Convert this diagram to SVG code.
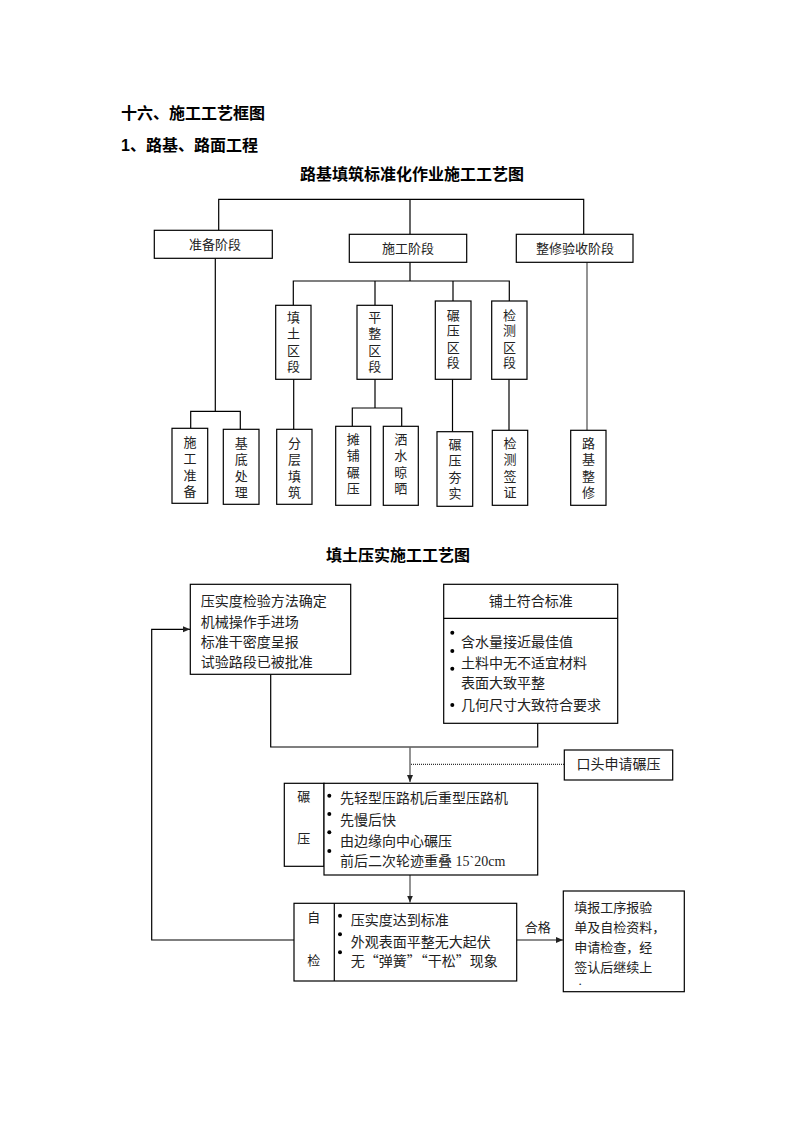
<svg xmlns="http://www.w3.org/2000/svg" width="793" height="1122" viewBox="0 0 793 1122">
<style>
.bg{fill:#fff}
.box{fill:#fff;stroke:#000;stroke-width:1.2}
.ln{fill:none;stroke:#000;stroke-width:1.2}
.gl{fill:none;stroke:#666;stroke-width:1.4}
.dot{fill:none;stroke:#000;stroke-width:1;stroke-dasharray:1 1}
.h{font-family:"Liberation Sans","Noto Sans CJK SC",sans-serif;font-weight:bold;font-size:16px;fill:#000}
.t{font-family:"Liberation Serif","Noto Sans CJK SC",sans-serif;font-size:14px;fill:#222}
.s{font-family:"Liberation Serif","Noto Sans CJK SC",sans-serif;font-size:13px;fill:#222}
.q{font-family:"Noto Sans CJK SC",sans-serif}
.c{text-anchor:middle}
.b{fill:#000}
</style>
<defs>
<marker id="ah" markerUnits="userSpaceOnUse" markerWidth="8" markerHeight="8" refX="7" refY="4" orient="auto">
<path d="M0,1 L7,4 L0,7 Z" fill="#222"/>
</marker>
</defs>
<rect class="bg" x="0" y="0" width="793" height="1122"/>

<g id="titles">
<text class="h" x="121" y="119">十六、施工工艺框图</text>
<text class="h" x="121" y="151">1、路基、路面工程</text>
<text class="h c" x="412" y="180">路基填筑标准化作业施工工艺图</text>
<text class="h c" x="398" y="561">填土压实施工工艺图</text>
</g>

<g id="connectors">
<path class="ln" d="M218.7 230.3 V199.3 H583.7 V234.3 M410 199.3 V234.3"/>
<path class="ln" d="M410 262.3 V281 M293.3 305.3 V281 H509.3 V301 M375 281 V305.3 M453 281 V301"/>
<path class="ln" d="M215.3 258.3 V411.3 M190.7 428.3 V411.3 H240.3 V429.3"/>
<path class="ln" d="M293.7 379.3 V429.3"/>
<path class="ln" d="M375 379.3 V408 M352.3 426.3 V408 H401.7 V426.3"/>
<path class="ln" d="M452.5 379.3 V431.7"/>
<path class="ln" d="M509 379.3 V430.3"/>
<path class="gl" d="M587 262.3 V430.3"/>
<path class="ln" d="M270.7 674.3 V747 H537.7 V723.3"/>
<path class="gl" d="M410 747 V782" marker-end="url(#ah)"/>
<path class="dot" d="M411 764.3 H564.3"/>
<path class="gl" d="M410 875 V902.5" marker-end="url(#ah)"/>
<path class="ln" d="M294 940 H151.7 V629.3 H190" marker-end="url(#ah)"/>
<path class="gl" d="M516.7 940 H563" marker-end="url(#ah)"/>
</g>

<g id="n-zhunbei"><rect class="box" x="154.3" y="230.3" width="118" height="28"/><text class="s c" x="215" y="249">准备阶段</text></g>
<g id="n-shigong"><rect class="box" x="349.3" y="234.3" width="117.4" height="28"/><text class="s c" x="408" y="253">施工阶段</text></g>
<g id="n-zhengxiu"><rect class="box" x="516.3" y="234.3" width="116.7" height="28"/><text class="s c" x="575" y="253">整修验收阶段</text></g>

<g id="n-tiantu"><rect class="box" x="275.7" y="305.3" width="35.3" height="74"/><text class="s c"><tspan x="293.4" y="321.5">填</tspan><tspan x="293.4" y="338">土</tspan><tspan x="293.4" y="354.5">区</tspan><tspan x="293.4" y="371">段</tspan></text></g>
<g id="n-pingzheng"><rect class="box" x="357" y="305.3" width="35.3" height="74"/><text class="s c"><tspan x="374.7" y="321.5">平</tspan><tspan x="374.7" y="338">整</tspan><tspan x="374.7" y="354.5">区</tspan><tspan x="374.7" y="371">段</tspan></text></g>
<g id="n-nianya"><rect class="box" x="435.3" y="301" width="35.7" height="78.3"/><text class="s c"><tspan x="453.2" y="319.5">碾</tspan><tspan x="453.2" y="335">压</tspan><tspan x="453.2" y="351.5">区</tspan><tspan x="453.2" y="367">段</tspan></text></g>
<g id="n-jiance"><rect class="box" x="491.7" y="301" width="35.3" height="78.3"/><text class="s c"><tspan x="509.4" y="319.5">检</tspan><tspan x="509.4" y="335">测</tspan><tspan x="509.4" y="351.5">区</tspan><tspan x="509.4" y="367">段</tspan></text></g>

<g id="n-sgzb"><rect class="box" x="172" y="428.3" width="35.7" height="75"/><text class="s c"><tspan x="189.9" y="446.5">施</tspan><tspan x="189.9" y="463">工</tspan><tspan x="189.9" y="479.5">准</tspan><tspan x="189.9" y="496">备</tspan></text></g>
<g id="n-jdcl"><rect class="box" x="223.3" y="429.3" width="35.7" height="75"/><text class="s c"><tspan x="241.2" y="447.5">基</tspan><tspan x="241.2" y="464">底</tspan><tspan x="241.2" y="480.5">处</tspan><tspan x="241.2" y="497">理</tspan></text></g>
<g id="n-fctz"><rect class="box" x="276.7" y="429.3" width="35.3" height="75"/><text class="s c"><tspan x="294.4" y="447.5">分</tspan><tspan x="294.4" y="464">层</tspan><tspan x="294.4" y="480.5">填</tspan><tspan x="294.4" y="497">筑</tspan></text></g>
<g id="n-tpny"><rect class="box" x="335.7" y="426.3" width="35" height="79"/><text class="s c"><tspan x="353.2" y="443.5">摊</tspan><tspan x="353.2" y="460">铺</tspan><tspan x="353.2" y="476.5">碾</tspan><tspan x="353.2" y="493">压</tspan></text></g>
<g id="n-ssls"><rect class="box" x="383.3" y="426.3" width="35" height="79"/><text class="s c"><tspan x="400.8" y="443.5">洒</tspan><tspan x="400.8" y="460">水</tspan><tspan x="400.8" y="476.5">晾</tspan><tspan x="400.8" y="493">晒</tspan></text></g>
<g id="n-nyhs"><rect class="box" x="437" y="431.7" width="35.7" height="74.6"/><text class="s c"><tspan x="454.9" y="448.5">碾</tspan><tspan x="454.9" y="465">压</tspan><tspan x="454.9" y="481.5">夯</tspan><tspan x="454.9" y="498">实</tspan></text></g>
<g id="n-jcqz"><rect class="box" x="492.3" y="430.3" width="35.4" height="75"/><text class="s c"><tspan x="510" y="447.5">检</tspan><tspan x="510" y="464">测</tspan><tspan x="510" y="480.5">签</tspan><tspan x="510" y="497">证</tspan></text></g>
<g id="n-ljzx"><rect class="box" x="570.7" y="430.3" width="35.3" height="75"/><text class="s c"><tspan x="588.4" y="447.5">路</tspan><tspan x="588.4" y="464">基</tspan><tspan x="588.4" y="480.5">整</tspan><tspan x="588.4" y="497">修</tspan></text></g>

<g id="n-prep"><rect class="box" x="190.3" y="584.3" width="160.4" height="90"/>
<text class="t"><tspan x="200.7" y="606">压实度检验方法确定</tspan><tspan x="200.7" y="626.7">机械操作手进场</tspan><tspan x="200.7" y="646.7">标准干密度呈报</tspan><tspan x="200.7" y="667.3">试验路段已被批准</tspan></text></g>

<g id="n-putu"><rect class="box" x="443.7" y="584.3" width="174" height="139"/><path class="ln" d="M443.7 618.3 H617.7"/>
<text class="t c" x="530.7" y="606">铺土符合标准</text>
<circle class="b" cx="452.3" cy="632.7" r="2"/><circle class="b" cx="452.3" cy="651" r="2"/><circle class="b" cx="452.3" cy="668.7" r="2"/><circle class="b" cx="452.3" cy="705" r="2"/>
<text class="t"><tspan x="461" y="646.7">含水量接近最佳值</tspan><tspan x="461" y="667.7">土料中无不适宜材料</tspan><tspan x="461" y="688.3">表面大致平整</tspan><tspan x="461" y="710">几何尺寸大致符合要求</tspan></text></g>

<g id="n-koutou"><rect class="box" x="564.3" y="750" width="108.4" height="30"/><text class="t c" x="618.5" y="769">口头申请碾压</text></g>

<g id="n-nianya2"><rect class="box" x="284.3" y="783.3" width="39.7" height="83"/><rect class="box" x="324" y="783.3" width="213.7" height="91.7"/>
<text class="s c"><tspan x="303.8" y="800.7">碾</tspan><tspan x="303.8" y="843.3">压</tspan></text>
<circle class="b" cx="329.3" cy="795.7" r="2"/><circle class="b" cx="329.3" cy="814" r="2"/><circle class="b" cx="329.3" cy="832.3" r="2"/><circle class="b" cx="329.3" cy="851" r="2"/>
<text class="t"><tspan x="340" y="802.7">先轻型压路机后重型压路机</tspan><tspan x="340" y="825">先慢后快</tspan><tspan x="340" y="845.7">由边缘向中心碾压</tspan><tspan x="340" y="866">前后二次轮迹重叠 15`20cm</tspan></text></g>

<g id="n-zijian"><rect class="box" x="294" y="903.3" width="222.7" height="77.7"/><path class="ln" d="M334.3 903.3 V981"/>
<text class="s c"><tspan x="313.8" y="921.7">自</tspan><tspan x="313.8" y="965">检</tspan></text>
<circle class="b" cx="340" cy="915.7" r="2"/><circle class="b" cx="340" cy="934.3" r="2"/><circle class="b" cx="340" cy="952.3" r="2"/>
<text class="t"><tspan x="350.7" y="925">压实度达到标准</tspan><tspan x="350.7" y="946.7">外观表面平整无大起伏</tspan></text>
<text class="t q" x="350.7" y="965.7">无“弹簧”“干松”现象</text></g>

<g id="n-hege"><text class="s c" x="537.7" y="931.5">合格</text></g>

<g id="n-tianbao"><rect class="box" x="563.3" y="891" width="121" height="100.7"/>
<text class="s"><tspan x="574.3" y="911.7">填报工序报验</tspan><tspan x="574.3" y="931.7">单及自检资料，</tspan><tspan x="574.3" y="951.7">申请检查，经</tspan><tspan x="574.3" y="972.3">签认后继续上</tspan><tspan x="578" y="988">·</tspan></text></g>
</svg>
